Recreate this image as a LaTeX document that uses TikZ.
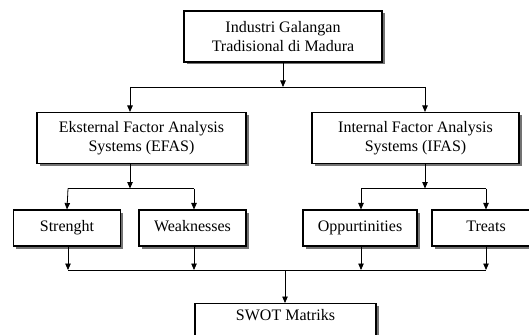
\documentclass[tikz,border=0pt]{standalone}
\usepackage{fontspec}
\setmainfont{Liberation Serif}
\usetikzlibrary{arrows.meta,shadows}

\begin{document}
\begin{tikzpicture}[
  x=1pt,y=-1pt,
  every node/.style={font=\fontsize{16}{19.5}\selectfont},
  box/.style={draw,line width=1.1pt,fill=white,align=center,inner sep=2pt,
              drop shadow={shadow xshift=2.5pt,shadow yshift=-2.5pt,fill=black!55,opacity=1}},
  swotbox/.style={box,minimum height=36pt,text height=11pt,text depth=4pt},
  arr/.style={-{Triangle[length=6.5pt,width=5.5pt]},line width=0.8pt},
  bus/.style={line width=0.8pt}
]
  \useasboundingbox (0,0) rectangle (529,334);

  % boxes
  \node[box,minimum width=198pt,minimum height=51pt] (industri) at (283,36.5)
    {Industri Galangan\\Tradisional di Madura};
  \node[box,minimum width=209pt,minimum height=51pt] (efas) at (141.5,138)
    {Eksternal Factor Analysis\\Systems (EFAS)};
  \node[box,minimum width=207pt,minimum height=51pt] (ifas) at (415.5,138)
    {Internal Factor Analysis\\Systems (IFAS)};
  \node[swotbox,minimum width=107pt] (strength) at (67,228) {Strenght};
  \node[swotbox,minimum width=107pt] (weak) at (192.5,228) {Weaknesses};
  \node[swotbox,minimum width=114pt] (opp) at (360,228) {Oppurtinities};
  \node[swotbox,minimum width=108pt] (treats) at (486,228) {Treats};
  \node[box,minimum width=181pt,anchor=north,text height=15pt,text depth=26pt] (swot)
    at (285.5,303) {SWOT Matriks};

  % branch points
  \coordinate (t1) at (130,87);
  \coordinate (t2) at (425,87);
  \coordinate (e1) at (68,188.5);
  \coordinate (e2) at (194,188.5);
  \coordinate (i1) at (361,188.5);
  \coordinate (i2) at (486,188.5);
  \coordinate (s1) at (68,270);
  \coordinate (s2) at (486,270);
  \coordinate (sm) at (285,270);

  % connectors
  \draw[arr] (industri.south) -- (industri.south |- t1);
  \draw[bus] (t1) -- (t2);
  \draw[arr] (t1) -- (t1 |- efas.north);
  \draw[arr] (t2) -- (t2 |- ifas.north);

  \draw[arr] (efas.south -| t1) -- (t1 |- e1);
  \draw[bus] (e1) -- (e2);
  \draw[arr] (e1) -- (strength.north);
  \draw[arr] (e2) -- (e2 |- weak.north);

  \draw[arr] (ifas.south -| t2) -- (t2 |- i1);
  \draw[bus] (i1) -- (i2);
  \draw[arr] (i1) -- (i1 |- opp.north);
  \draw[arr] (i2) -- (i2 |- treats.north);

  \draw[arr] (strength.south -| s1) -- (s1);
  \draw[arr] (weak.south -| e2) -- (e2 |- s1);
  \draw[arr] (opp.south -| i1) -- (i1 |- s1);
  \draw[arr] (treats.south -| s2) -- (s2);
  \draw[bus] (s1) -- (s2);
  \draw[arr] (sm) -- (sm |- swot.north);
\end{tikzpicture}
\end{document}
